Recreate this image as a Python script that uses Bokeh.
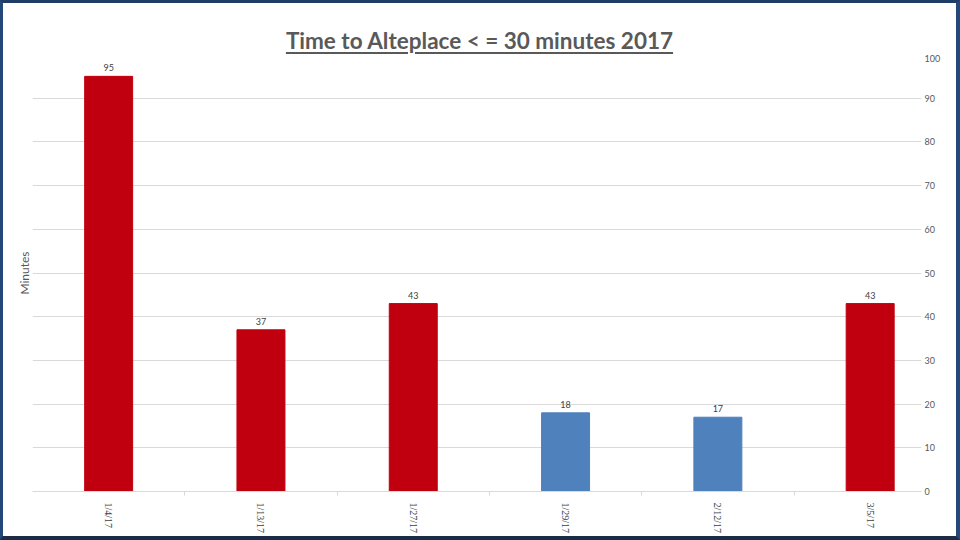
import math
from bokeh.plotting import figure
from bokeh.models import ColumnDataSource, FixedTicker, LinearAxis, Range1d, Div
from bokeh.layouts import column
from bokeh.embed import file_html
from bokeh.resources import INLINE
from bokeh.core.properties import value

# ---- data ----
title_text = "Time to Alteplace < = 30 minutes 2017"
dates = ["1/4/17", "1/13/17", "1/27/17", "1/29/17", "2/12/17", "3/5/17"]
minutes = [95, 37, 43, 18, 17, 43]
target = 30
y_ticks = [0, 10, 20, 30, 40, 50, 60, 70, 80, 90, 100]
y_label = "Minutes"

RED = "#c0000f"
BLUE = "#4f81bd"
GRID = "#d9d9d9"
TXT = "#595959"

idx = list(range(len(dates)))
colors = [BLUE if m <= target else RED for m in minutes]
src = ColumnDataSource(dict(x=idx, top=minutes, color=colors,
                            label=[str(m) for m in minutes]))

p = figure(width=953, height=482, output_backend="svg", toolbar_location=None,
           title=None,
           x_range=Range1d(-0.5, 5.337), y_range=Range1d(0, 100),
           y_axis_location="right",
           min_border_left=29, min_border_right=35, min_border_top=0, min_border_bottom=44)
p.outline_line_color = None
p.background_fill_color = "white"
p.border_fill_color = None

p.vbar(x="x", top="top", width=0.315, color="color", source=src)
p.text(x="x", y="top", text="label", source=src, text_align="center",
       text_baseline="bottom", y_offset=-5, text_font_size="9px",
       text_color="#404040", text_font=value("Lato"))

# x axis
xa = p.xaxis[0]
xa.ticker = FixedTicker(ticks=idx, minor_ticks=[i + 0.5 for i in idx[:-1]])
xa.major_label_overrides = {i: d for i, d in zip(idx, dates)}
xa.major_label_orientation = -math.pi / 2
xa.major_tick_line_color = None
xa.major_tick_in = 0
xa.major_tick_out = 0
xa.minor_tick_in = 0
xa.minor_tick_out = 4
xa.minor_tick_line_color = GRID
xa.axis_line_color = GRID
xa.major_label_standoff = 7
xa.major_label_text_font = "Liberation Serif"
xa.major_label_text_font_size = "10px"
xa.major_label_text_color = "#404040"

# right y axis
ya = p.yaxis[0]
ya.ticker = FixedTicker(ticks=y_ticks)
ya.major_tick_in = 0
ya.major_tick_out = 0
ya.minor_tick_line_color = None
ya.axis_line_color = None
ya.major_label_standoff = 3
ya.major_label_text_font = "Lato"
ya.major_label_text_font_size = "9px"
ya.major_label_text_color = TXT

# left axis with label only
la = LinearAxis(ticker=FixedTicker(ticks=[]), axis_label=y_label)
la.axis_line_color = None
la.major_tick_line_color = None
la.minor_tick_line_color = None
la.axis_label_standoff = 1
la.axis_label_text_font = "Lato"
la.axis_label_text_font_size = "12px"
la.axis_label_text_font_style = "normal"
la.axis_label_text_color = TXT
p.add_layout(la, "left")

p.xgrid.visible = False
p.ygrid.grid_line_color = GRID
p.ygrid.grid_line_width = 1

title = Div(text=(
    '<div style="text-align:center;font-family:Lato;font-weight:bold;'
    'font-size:22.5px;color:#595959;text-decoration:underline;'
    'text-decoration-thickness:2px;text-underline-offset:3px;'
    'line-height:26px;padding-top:25px;margin:0;width:953px;">'
    + title_text + '</div>'), width=953, height=51, margin=0)

layout = column(title, p, styles={
    "border-left": "3px solid #24487a",
    "border-top": "3px solid #1f3d66",
    "border-right": "4px solid #24487a",
    "border-bottom": "4px solid #1c2c45",
    "background-color": "white",
})

open("out.html", "w").write(file_html(layout, INLINE))
